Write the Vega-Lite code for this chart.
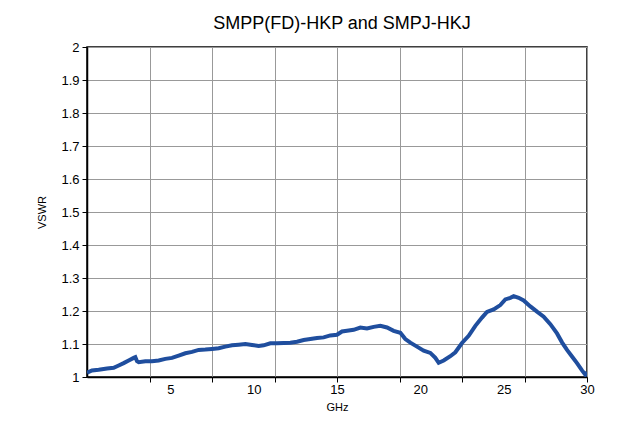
{
  "$schema": "https://vega.github.io/schema/vega-lite/v6.json",
  "width": 500,
  "height": 330,
  "autosize": "none",
  "padding": {"left": 87, "top": 47, "right": 32, "bottom": 52},
  "background": "white",
  "title": {
    "text": "SMPP(FD)-HKP and SMPJ-HKJ",
    "fontSize": 18,
    "font": "Liberation Sans",
    "fontWeight": "normal",
    "color": "black",
    "offset": 8,
    "dx": 5
  },
  "config": {
    "view": {"stroke": "black", "strokeWidth": 1.5},
    "axis": {
      "labelFont": "Liberation Sans",
      "titleFont": "Liberation Sans",
      "labelFontSize": 13,
      "titleFontSize": 11,
      "titleFontWeight": "normal",
      "labelColor": "black",
      "titleColor": "black",
      "domainColor": "black",
      "domainWidth": 1.5,
      "tickColor": "black",
      "tickSize": 5,
      "gridColor": "#999999",
      "gridWidth": 1
    }
  },
  "data": {
    "values": [
      {"f": 0.0, "v": 1.013}, {"f": 0.3, "v": 1.02}, {"f": 0.7, "v": 1.022}, {"f": 1.2, "v": 1.026},
      {"f": 1.6, "v": 1.028}, {"f": 1.9, "v": 1.035}, {"f": 2.2, "v": 1.042}, {"f": 2.5, "v": 1.05},
      {"f": 2.8, "v": 1.058}, {"f": 2.9, "v": 1.06}, {"f": 3.0, "v": 1.048}, {"f": 3.1, "v": 1.045},
      {"f": 3.5, "v": 1.048}, {"f": 3.9, "v": 1.048}, {"f": 4.3, "v": 1.05}, {"f": 4.7, "v": 1.055},
      {"f": 5.1, "v": 1.058}, {"f": 5.5, "v": 1.065}, {"f": 5.9, "v": 1.072}, {"f": 6.3, "v": 1.076},
      {"f": 6.7, "v": 1.082}, {"f": 7.1, "v": 1.083}, {"f": 7.5, "v": 1.085}, {"f": 7.9, "v": 1.087},
      {"f": 8.3, "v": 1.092}, {"f": 8.7, "v": 1.096}, {"f": 9.1, "v": 1.098}, {"f": 9.5, "v": 1.1},
      {"f": 9.9, "v": 1.097}, {"f": 10.3, "v": 1.094}, {"f": 10.6, "v": 1.096}, {"f": 11.0, "v": 1.102},
      {"f": 11.4, "v": 1.102}, {"f": 11.8, "v": 1.103}, {"f": 12.2, "v": 1.104}, {"f": 12.6, "v": 1.107},
      {"f": 13.0, "v": 1.112}, {"f": 13.4, "v": 1.115}, {"f": 13.8, "v": 1.118}, {"f": 14.2, "v": 1.12},
      {"f": 14.6, "v": 1.126}, {"f": 15.0, "v": 1.128}, {"f": 15.3, "v": 1.138}, {"f": 15.6, "v": 1.14},
      {"f": 16.0, "v": 1.143}, {"f": 16.4, "v": 1.15}, {"f": 16.8, "v": 1.147}, {"f": 17.2, "v": 1.152},
      {"f": 17.6, "v": 1.155}, {"f": 18.0, "v": 1.15}, {"f": 18.4, "v": 1.14}, {"f": 18.8, "v": 1.134},
      {"f": 19.1, "v": 1.115}, {"f": 19.4, "v": 1.104}, {"f": 19.8, "v": 1.092}, {"f": 20.2, "v": 1.08},
      {"f": 20.6, "v": 1.073}, {"f": 20.9, "v": 1.058}, {"f": 21.1, "v": 1.043}, {"f": 21.4, "v": 1.05},
      {"f": 21.8, "v": 1.063}, {"f": 22.1, "v": 1.075}, {"f": 22.5, "v": 1.103}, {"f": 22.9, "v": 1.125},
      {"f": 23.3, "v": 1.155}, {"f": 23.7, "v": 1.18}, {"f": 24.0, "v": 1.197}, {"f": 24.4, "v": 1.205},
      {"f": 24.8, "v": 1.218}, {"f": 25.1, "v": 1.235}, {"f": 25.4, "v": 1.24}, {"f": 25.6, "v": 1.245},
      {"f": 25.9, "v": 1.24}, {"f": 26.2, "v": 1.232}, {"f": 26.6, "v": 1.214}, {"f": 27.0, "v": 1.198},
      {"f": 27.4, "v": 1.183}, {"f": 27.8, "v": 1.16}, {"f": 28.2, "v": 1.132}, {"f": 28.5, "v": 1.105},
      {"f": 28.8, "v": 1.082}, {"f": 29.1, "v": 1.062}, {"f": 29.4, "v": 1.042}, {"f": 29.7, "v": 1.02},
      {"f": 29.9, "v": 1.007}, {"f": 30.0, "v": 1.015}
    ]
  },
  "mark": {"type": "line", "color": "#1f4e9e", "strokeWidth": 4, "clip": true},
  "encoding": {
    "x": {
      "field": "f",
      "type": "quantitative",
      "scale": {"domain": [0, 30], "nice": false, "zero": false},
      "axis": {
        "title": "GHz",
        "values": [3.75, 5, 7.5, 10, 11.25, 15, 18.75, 20, 22.5, 25, 26.25, 30],
        "labelExpr": "datum.value % 5 === 0 ? datum.label : ''",
        "gridOpacity": {"condition": {"test": "datum.value % 3.75 === 0", "value": 1}, "value": 0},
        "tickOpacity": {"condition": {"test": "datum.value % 3.75 === 0", "value": 1}, "value": 0},
        "labelPadding": 1,
        "labelDx": -3,
        "titlePadding": 5,
        "labelFlush": false,
        "labelOverlap": false
      }
    },
    "y": {
      "field": "v",
      "type": "quantitative",
      "scale": {"domain": [1, 2], "nice": false, "zero": false},
      "axis": {
        "title": "VSWR",
        "values": [1, 1.1, 1.2, 1.3, 1.4, 1.5, 1.6, 1.7, 1.8, 1.9, 2],
        "format": ".1~f",
        "labelPadding": 3,
        "titlePadding": 13,
        "labelFlush": false,
        "labelOverlap": false
      }
    }
  }
}
